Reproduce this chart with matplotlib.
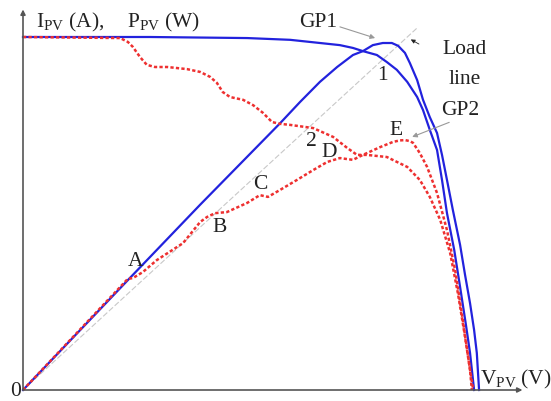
import matplotlib
matplotlib.use("Agg")
import matplotlib.pyplot as plt

plt.rcParams['font.family'] = ['Liberation Serif', 'DejaVu Serif']
plt.rcParams['mathtext.fontset'] = 'custom'
plt.rcParams['mathtext.rm'] = 'Liberation Serif'

# uniform irradiance: I-V curve (blue, inner) and P-V curve (blue, outer)
iv_v = [0, 28.1, 49.6, 59.1, 65.7, 70.1, 73.0, 75.2, 78.3, 80.5, 82.7, 85.0, 87.2, 88.5,
        90.0, 91.6, 92.7, 93.8, 95.4, 96.7, 98.0, 98.9, 99.8]
iv_i = [100, 100, 99.7, 99.2, 98.3, 97.7, 96.9, 96.0, 94.9, 92.9, 90.7, 87.3, 83.0, 79.3,
        73.7, 68.0, 59.5, 50.1, 39.7, 29.2, 18.4, 10.5, 0]

pv_v = [0, 23.7, 39.2, 56.9, 61.3, 65.7, 69.5, 73.0, 75.2, 77.4, 79.6, 81.6, 83.0, 84.5,
        85.6, 87.2, 88.5, 90.0, 91.6, 92.7, 93.8, 95.1, 96.7, 97.8, 98.9, 99.8, 100.4, 100.9]
pv_p = [0, 31.8, 52.5, 75.6, 81.6, 87.3, 91.5, 94.9, 96.0, 97.7, 98.3, 98.3, 97.5, 95.5,
        92.6, 87.8, 82.2, 77.3, 72.8, 66.6, 59.5, 51.0, 41.1, 32.6, 24.6, 17.0, 10.5, 0]

# partial shading: I-V (red, upper) and P-V (red, lower)
ish_v = [0, 21.5, 23.2, 24.3, 25.9, 27.4, 29.2, 31.9, 36.3, 39.2, 41.4, 42.9, 44.2, 45.8,
         48.7, 50.9, 53.1, 55.1, 56.9, 59.1, 64.2, 68.6, 71.7, 73.9, 76.1, 80.5, 85.0, 87.8,
         90.0, 92.3, 94.5, 96.2, 97.8, 98.9, 99.3]
ish_i = [100, 99.7, 98.6, 97.2, 94.3, 92.1, 91.5, 91.5, 90.9, 90.1, 88.7, 87.0, 84.4, 83.0,
         82.2, 80.7, 78.5, 75.9, 75.4, 75.1, 74.2, 71.7, 68.6, 66.6, 66.6, 66.0, 63.2, 59.5,
         54.7, 48.2, 38.8, 27.5, 15.0, 5.7, 0]

psh_v = [0, 23.2, 24.3, 26.5, 29.6, 35.4, 39.2, 40.7, 42.5, 45.1, 49.6, 52.4, 54.2, 56.9,
         60.6, 64.2, 67.3, 70.1, 73.0, 75.2, 79.0, 81.9, 83.4, 84.5, 85.6, 86.3, 87.8, 89.4,
         91.6, 93.8, 95.6, 97.3, 98.9, 99.6]
psh_p = [0, 31.5, 31.7, 33.4, 36.8, 41.6, 47.6, 49.0, 50.1, 50.4, 53.0, 55.2, 54.7, 56.7,
         59.5, 62.3, 64.6, 65.7, 65.2, 66.6, 68.8, 70.3, 70.7, 70.8, 70.5, 70.0, 67.1, 63.2,
         55.8, 45.3, 34.0, 19.8, 5.7, 0]

# load line
load_v = [0, 87.4]
load_p = [0, 102.8]

# point labels
pt_names = ['A', 'B', 'C', '2', 'D', 'E', '1']
pt_x = [24.8, 43.4, 52.4, 63.7, 67.7, 82.5, 79.6]
pt_y = [36.5, 45.9, 58.1, 70.5, 67.4, 73.4, 89.2]

fig = plt.figure(figsize=(5.51, 4.01), dpi=100)
ax = fig.add_axes([0, 0, 1, 1])
sx, sy = 4.52, 3.53
ax.set_xlim(-23 / sx, 528 / sx)
ax.set_ylim(-11 / sy, 390 / sy)
ax.axis('off')

blue = '#2222dd'
red = '#ee3030'

ax.plot(load_v, load_p, color='#c8c8c8', lw=0.8, ls=(0, (5, 2)))
ax.plot(iv_v, iv_i, color=blue, lw=1.6, solid_joinstyle='round')
ax.plot(pv_v, pv_p, color=blue, lw=1.6, solid_joinstyle='round')
ax.plot(ish_v, ish_i, color=red, lw=1.8, ls=(0, (1.3, 0.9)))
ax.plot(psh_v, psh_p, color=red, lw=1.8, ls=(0, (1.3, 0.9)))

# axes with arrows
axc = '#555555'
ax.annotate('', xy=(110.5, 0), xytext=(0, 0),
            arrowprops=dict(arrowstyle='-|>', color=axc, lw=1.2, mutation_scale=7, shrinkA=0, shrinkB=0))
ax.annotate('', xy=(0, 107.8), xytext=(0, 0),
            arrowprops=dict(arrowstyle='-|>', color=axc, lw=1.2, mutation_scale=7, shrinkA=0, shrinkB=0))

fs = 15.5
for n, x, y in zip(pt_names, pt_x, pt_y):
    ax.text(x, y, n, fontsize=fs, ha='center', va='center', color='#222222')

ax.text(-1.6, -0.3, '0', fontsize=fs, ha='center', va='center', color='#222222')
ax.text(2.9, 104.2, r'$\mathrm{I_{PV}}$ (A),', fontsize=fs, ha='left', va='center', color='#222222')
ax.text(23.0, 104.2, r'$\mathrm{P_{PV}}$ (W)', fontsize=fs, ha='left', va='center', color='#222222')
ax.text(101.0, 3.0, r'$\mathrm{V_{PV}}$ (V)', fontsize=fs, ha='left', va='center', color='#222222')
ax.text(97.8, 96.5, 'Load', fontsize=fs, ha='center', va='center', color='#222222')
ax.text(97.8, 88.0, 'line', fontsize=fs, ha='center', va='center', color='#222222')

# GP annotations
ann = dict(arrowstyle='-|>', color='#999999', lw=0.8, mutation_scale=7, shrinkA=0, shrinkB=0)
ax.annotate('GP1', xy=(77.9, 99.7), xytext=(65.3, 104.2), fontsize=fs, ha='center', va='center',
            color='#222222', arrowprops=dict(ann, relpos=(1, 0.3)))
ax.annotate('GP2', xy=(86.1, 71.7), xytext=(96.7, 79.3), fontsize=fs, ha='center', va='center',
            color='#222222', arrowprops=dict(ann, relpos=(0.4, 0)))
ax.annotate('', xy=(85.8, 99.3), xytext=(87.6, 98.0),
            arrowprops=dict(arrowstyle='-|>', color='#222222', lw=0.6, mutation_scale=6, shrinkA=0, shrinkB=0))

fig.savefig('out.png', dpi=100)
